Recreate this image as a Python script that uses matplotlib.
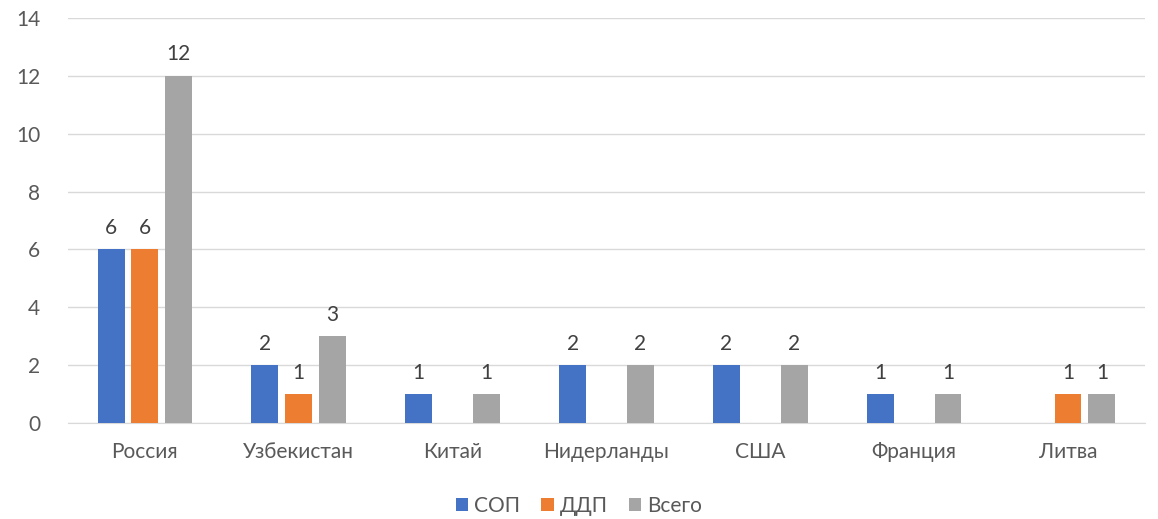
import numpy as np
import matplotlib.pyplot as plt

plt.rcParams['font.family'] = ['Lato', 'DejaVu Sans']

# Данные
countries = ['Россия', 'Узбекистан', 'Китай', 'Нидерланды', 'США', 'Франция', 'Литва']
sop = [6, 2, 1, 2, 2, 1, 0]
ddp = [6, 1, 0, 0, 0, 0, 1]
total = [12, 3, 1, 2, 2, 1, 1]

series = [('СОП', sop, '#4472C4'), ('ДДП', ddp, '#ED7D31'), ('Всего', total, '#A5A5A5')]

fig = plt.figure(figsize=(11.58, 5.19), dpi=100)
ax = fig.add_axes([0.0587, 0.185, 0.930, 0.780])

fs = 15
x = np.arange(len(countries))
w = 0.175
step = 0.22
for i, (name, vals, col) in enumerate(series):
    vals = np.array(vals, dtype=float)
    h = np.where(vals > 0, vals, np.nan)
    bars = ax.bar(x + (i - 1) * step, h, width=w, color=col, label=name, zorder=3)
    for b, v in zip(bars, vals):
        if v > 0:
            ax.text(b.get_x() + b.get_width() / 2, v + 0.4, f'{int(v)}',
                    ha='center', va='bottom', fontsize=fs, color='#404040')

ax.set_xlim(-0.5, len(countries) - 0.5)
ax.set_ylim(0, 14)
ax.set_yticks(range(0, 15, 2))
ax.set_xticks(x)
ax.set_xticklabels(countries)
ax.tick_params(axis='both', length=0, labelsize=fs, colors='#595959')
ax.tick_params(axis='x', pad=14)
ax.tick_params(axis='y', pad=20)
ax.grid(axis='y', color='#D9D9D9', linewidth=1, zorder=0)
for s in ['top', 'right', 'left']:
    ax.spines[s].set_visible(False)
ax.spines['bottom'].set_color('#D9D9D9')

fig.legend(loc='lower center', bbox_to_anchor=(0.5, -0.03), ncol=3, frameon=False,
           fontsize=fs, handlelength=0.6, handleheight=0.6, columnspacing=1.0,
           handletextpad=0.3, labelcolor='#595959')

fig.savefig('out.png', dpi=100)
